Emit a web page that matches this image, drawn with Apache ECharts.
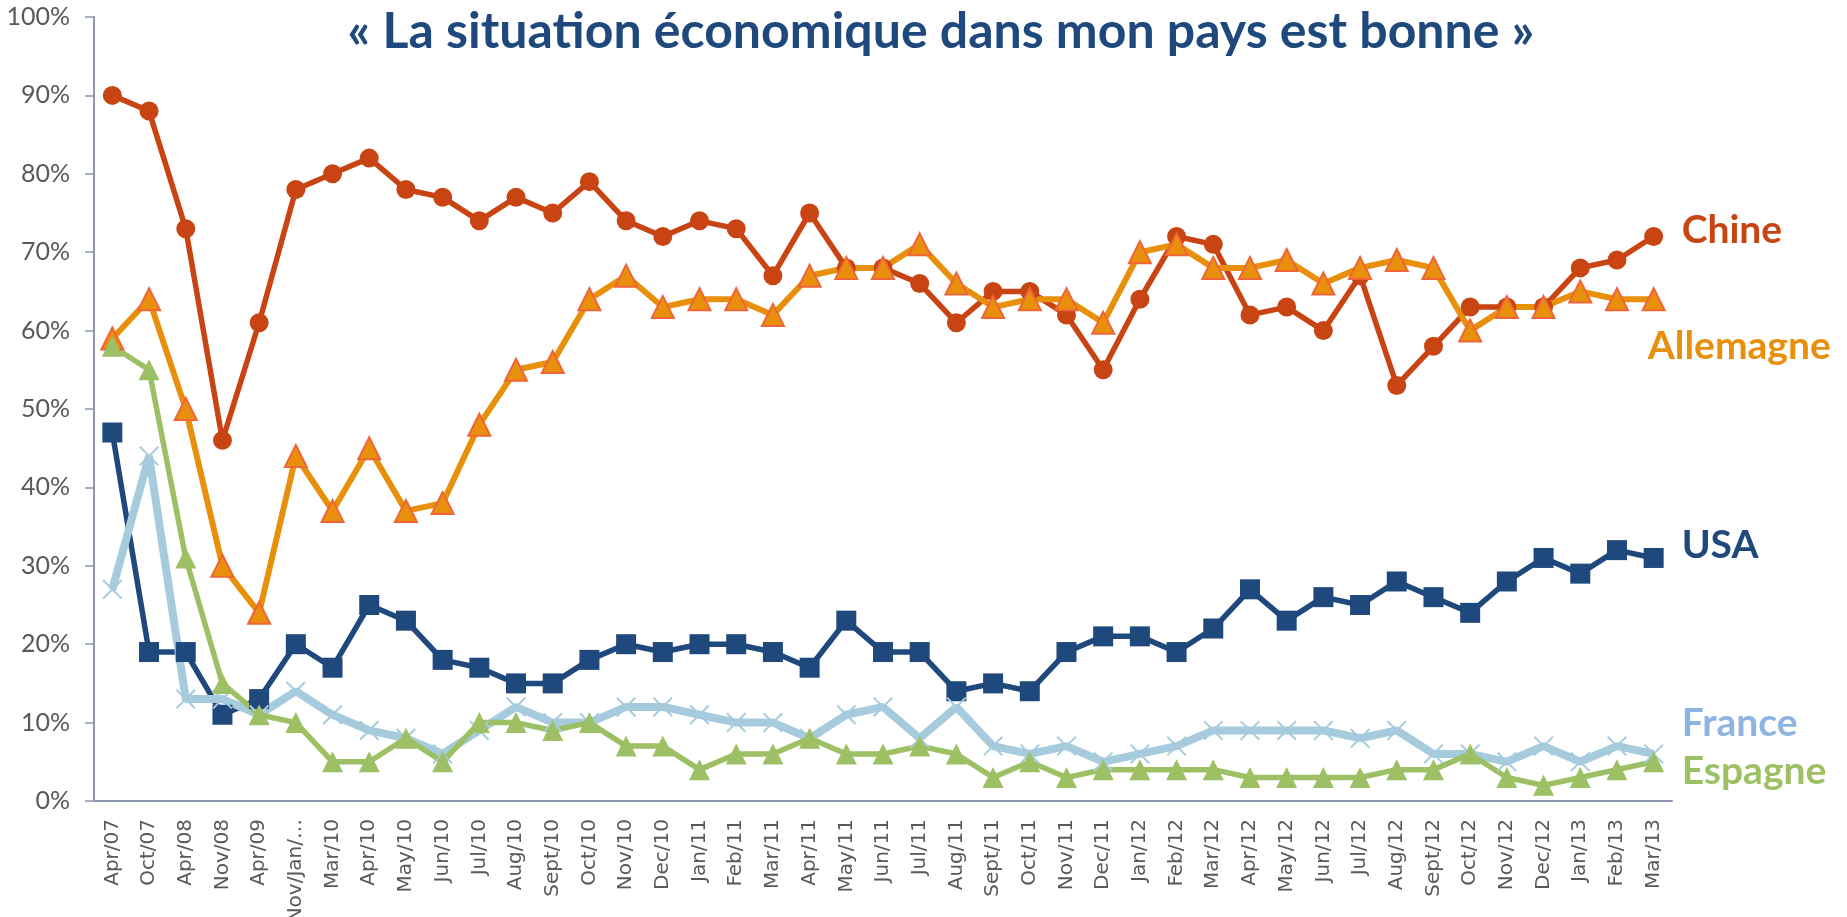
<!DOCTYPE html>
<html>
<head>
<meta charset="utf-8">
<script src="https://cdn.jsdelivr.net/npm/echarts@6/dist/echarts.min.js"></script>
<style>
  html, body { margin: 0; padding: 0; background: #fff; }
  #chart { width: 1847px; height: 917px; }
</style>
</head>
<body>
<div id="chart"></div>
<script>
// catégories (vagues d'enquête)
const categories = ['Apr/07', 'Oct/07', 'Apr/08', 'Nov/08', 'Apr/09', 'Nov/Jan/…', 'Mar/10', 'Apr/10', 'May/10', 'Jun/10',
  'Jul/10', 'Aug/10', 'Sept/10', 'Oct/10', 'Nov/10', 'Dec/10', 'Jan/11', 'Feb/11', 'Mar/11', 'Apr/11',
  'May/11', 'Jun/11', 'Jul/11', 'Aug/11', 'Sept/11', 'Oct/11', 'Nov/11', 'Dec/11', 'Jan/12', 'Feb/12',
  'Mar/12', 'Apr/12', 'May/12', 'Jun/12', 'Jul/12', 'Aug/12', 'Sept/12', 'Oct/12', 'Nov/12', 'Dec/12',
  'Jan/13', 'Feb/13', 'Mar/13']

// % "la situation économique est bonne"
const chine = [90, 88, 73, 46, 61, 78, 80, 82, 78, 77, 74, 77, 75, 79, 74, 72, 74, 73, 67, 75,
  68, 68, 66, 61, 65, 65, 62, 55, 64, 72, 71, 62, 63, 60, 67, 53, 58, 63, 63, 63, 68, 69, 72]
const allemagne = [59, 64, 50, 30, 24, 44, 37, 45, 37, 38, 48, 55, 56, 64, 67, 63, 64, 64, 62, 67,
  68, 68, 71, 66, 63, 64, 64, 61, 70, 71, 68, 68, 69, 66, 68, 69, 68, 60, 63, 63, 65, 64, 64]
const usa = [47, 19, 19, 11, 13, 20, 17, 25, 23, 18, 17, 15, 15, 18, 20, 19, 20, 20, 19, 17,
  23, 19, 19, 14, 15, 14, 19, 21, 21, 19, 22, 27, 23, 26, 25, 28, 26, 24, 28, 31, 29, 32, 31]
const france = [27, 44, 13, 13, 11, 14, 11, 9, 8, 6, 9, 12, 10, 10, 12, 12, 11, 10, 10, 8,
  11, 12, 8, 12, 7, 6, 7, 5, 6, 7, 9, 9, 9, 9, 8, 9, 6, 6, 5, 7, 5, 7, 6]
const espagne = [58, 55, 31, 15, 11, 10, 5, 5, 8, 5, 10, 10, 9, 10, 7, 7, 4, 6, 6, 8,
  6, 6, 7, 6, 3, 5, 3, 4, 4, 4, 4, 3, 3, 3, 3, 4, 4, 6, 3, 2, 3, 4, 5]

const yTicks = { min: 0, max: 100, interval: 10 }

const axisColor = '#8F97B0'
const labelColor = '#595959'
const crossPath = 'path://M0,1.4 L1.4,0 L10,8.6 L18.6,0 L20,1.4 L11.4,10 L20,18.6 L18.6,20 L10,11.4 L1.4,20 L0,18.6 L8.6,10 Z'

// étiquette en bout de courbe
const endLabel = (text, color, dx, dy) => ({
  show: true,
  formatter: text,
  color: color,
  fontFamily: 'Lato',
  fontWeight: 'bold',
  fontSize: 39,
  distance: 0,
  offset: [dx, dy]
})

const chart = echarts.init(document.getElementById('chart'))

const option = {
  animation: false,
  title: {
    text: '« La situation économique dans mon pays est bonne »',
    left: 936,
    top: 2,
    textAlign: 'center',
    textStyle: {
      color: '#1F487C',
      fontFamily: 'Lato',
      fontWeight: 'bold',
      fontSize: 50
    }
  },
  grid: {
    left: 94,
    right: 175,
    top: 17,
    bottom: 116,
    containLabel: false,
    outerBoundsMode: 'none'
  },
  xAxis: {
    type: 'category',
    data: categories,
    boundaryGap: true,
    axisLine: { lineStyle: { color: axisColor, width: 2 } },
    axisTick: { interval: 0, length: 8, lineStyle: { color: axisColor, width: 1.5 } },
    axisLabel: {
      interval: 0,
      rotate: 90,
      margin: 18,
      color: labelColor,
      fontFamily: 'DejaVu Sans',
      fontSize: 20
    }
  },
  yAxis: {
    type: 'value',
    min: yTicks.min,
    max: yTicks.max,
    interval: yTicks.interval,
    splitLine: { show: false },
    axisLine: { show: true, lineStyle: { color: axisColor, width: 2 } },
    axisTick: { show: true, length: 9, lineStyle: { color: axisColor, width: 1.5 } },
    axisLabel: {
      formatter: '{value}%',
      margin: 24,
      color: labelColor,
      fontFamily: 'Lato',
      fontSize: 25
    }
  },
  series: [
    {
      name: 'Chine',
      type: 'line',
      data: chine,
      symbol: 'circle',
      symbolSize: 19,
      lineStyle: { color: '#C84412', width: 5.5 },
      itemStyle: { color: '#C84412' },
      endLabel: endLabel('Chine', '#C84412', 28, -6)
    },
    {
      name: 'Allemagne',
      type: 'line',
      data: allemagne,
      symbol: 'triangle',
      symbolSize: 22,
      lineStyle: { color: '#E8900C', width: 6 },
      itemStyle: { color: '#E8900C', borderColor: '#F0643A', borderWidth: 2 },
      endLabel: endLabel('Allemagne', '#E8900C', -6, 47)
    },
    {
      name: 'USA',
      type: 'line',
      data: usa,
      symbol: 'rect',
      symbolSize: 20,
      lineStyle: { color: '#1F487C', width: 5.5 },
      itemStyle: { color: '#1F487C' },
      endLabel: endLabel('USA', '#1F487C', 28, -13)
    },
    {
      name: 'France',
      type: 'line',
      data: france,
      symbol: crossPath,
      symbolSize: 20,
      lineStyle: { color: '#A6CBDD', width: 8 },
      itemStyle: { color: '#A6CBDD' },
      endLabel: endLabel('France', '#8DB4E2', 28, -31)
    },
    {
      name: 'Espagne',
      type: 'line',
      data: espagne,
      symbol: 'triangle',
      symbolSize: 21,
      lineStyle: { color: '#9CC063', width: 5.5 },
      itemStyle: { color: '#9CC063' },
      endLabel: endLabel('Espagne', '#9CC063', 28, 10)
    }
  ]
}

chart.setOption(option)
</script>
</body>
</html>
